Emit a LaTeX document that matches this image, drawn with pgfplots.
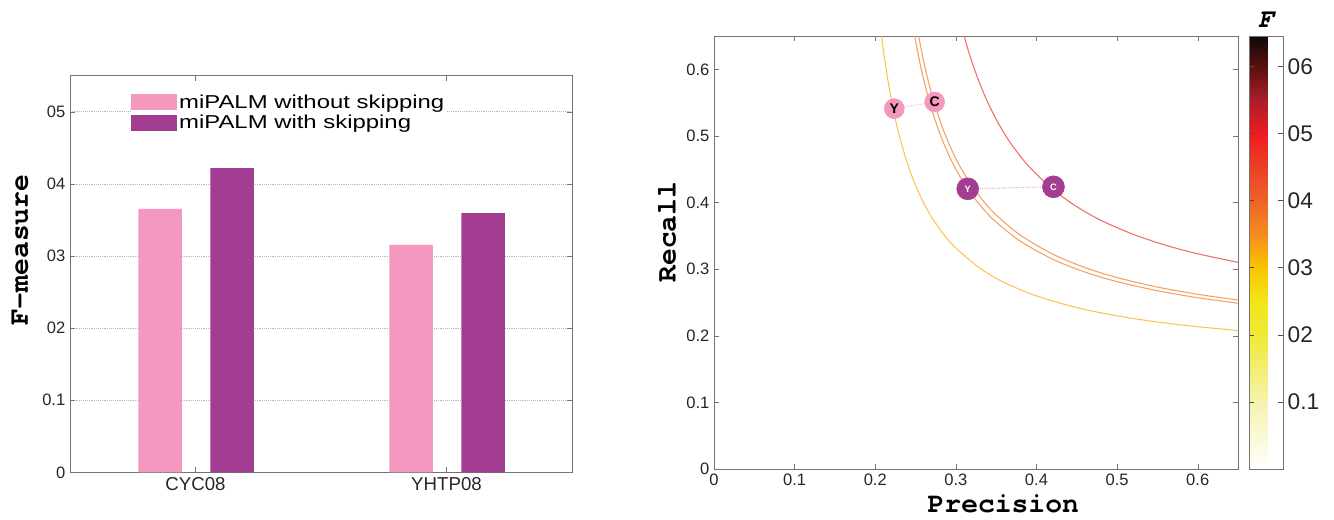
\documentclass[border=0pt]{standalone}
\usepackage{fontspec}
\setmainfont{Liberation Sans}
\newfontfamily\legfont{Liberation Sans}[FakeStretch=1.28]
\newfontfamily\lblfont{TeX Gyre Cursor}
\usepackage{pgfplots}
\pgfplotsset{compat=1.18}

\definecolor{pinkc}{RGB}{244,152,192}
\definecolor{purplec}{RGB}{163,61,146}
\definecolor{axgray}{RGB}{115,115,115}
\definecolor{fone}{RGB}{250,196,80}
\definecolor{ftwo}{RGB}{245,160,100}
\definecolor{ffour}{RGB}{238,112,100}

\pgfplotsset{
  matlab/.style={
    scale only axis,
    anchor=south west,
    tick align=inside,
    tick pos=both,
    major tick length=4pt,
    axis line style={axgray},
    tick style={axgray},
    /pgf/number format/assume math mode=true,
    tick label style={font=\fontsize{12.4}{13}\selectfont, text=black!85},
    label style={font=\lblfont\bfseries\fontsize{21}{21}\selectfont},
  },
}

\begin{document}
\begin{tikzpicture}
\useasboundingbox (0,0) rectangle (1000.5pt,389.25pt);

% left: F-measure bars
\begin{axis}[matlab,
  at={(52.5pt,35pt)},
  width=376.5pt, height=297.5pt,
  xmin=0.5, xmax=2.5, ymin=0, ymax=0.55,
  xtick={1,2}, xticklabels={CYC08,YHTP08},
  xticklabel style={font=\fontsize{14}{15}\selectfont},
  ytick={0,0.1,0.2,0.3,0.4,0.5},
  yticklabels={0,0.1,02,03,04,05},
  ymajorgrids, grid style={densely dotted, gray!55},
  ylabel={F-measure},
  ylabel style={at={(axis description cs:-0.0996,0.56)}, anchor=center},
  legend cell align=left,
  legend style={at={(axis description cs:0.12,0.958)}, anchor=north west,
    fill=white, draw=none, inner sep=0pt, row sep=1pt,
    font=\legfont\fontsize{14}{14}\selectfont,
    nodes={inner sep=1.5pt}},
]
\addplot[ybar, bar width=32.6pt, bar shift=-26.5pt, fill=pinkc, draw=none,
  legend image code/.code={\fill[pinkc] (0pt,-6pt) rectangle (35pt,6pt);}]
  coordinates {(1,0.3653) (2,0.3153)};
\addlegendentry{miPALM without skipping}
\addplot[ybar, bar width=32.6pt, bar shift=27.5pt, fill=purplec, draw=none,
  legend image code/.code={\fill[purplec] (0pt,-6pt) rectangle (35pt,6pt);}]
  coordinates {(1,0.4219) (2,0.3593)};
\addlegendentry{miPALM with skipping}
\end{axis}

% right: precision / recall with iso-F curves
\begin{axis}[matlab,
  at={(535.5pt,37.5pt)},
  width=393pt, height=324.75pt,
  xmin=0, xmax=0.65, ymin=0, ymax=0.65,
  xtick={0,0.1,0.2,0.3,0.4,0.5,0.6},
  xticklabels={0,0.1,0.2,0.3,0.4,0.5,0.6},
  ytick={0,0.1,0.2,0.3,0.4,0.5,0.6},
  yticklabels={0,0.1,0.2,0.3,0.4,0.5,0.6},
  xlabel={Precision}, ylabel={Recall},
  xlabel style={at={(axis description cs:0.552,-0.081)}, anchor=center},
  ylabel style={at={(axis description cs:-0.0897,0.547)}, anchor=center},
  point meta min=0, point meta max=0.645,
  colormap={fhot}{rgb255(0cm)=(255,255,255) rgb255(1cm)=(246,242,175)
    rgb255(2cm)=(241,232,55) rgb255(2.5cm)=(242,230,25) rgb255(3cm)=(250,196,0)
    rgb255(3.5cm)=(245,140,30) rgb255(4cm)=(235,100,40) rgb255(5cm)=(237,28,36)
    rgb255(5.5cm)=(170,30,40) rgb255(6cm)=(90,15,15) rgb255(6.45cm)=(10,10,10)},
  colorbar,
  colorbar shift/.style={xshift=8.25pt},
  colorbar style={
    width=25.5pt,
    at={(parent axis.north east)}, anchor=north west,
    ytick={0.1,0.2,0.3,0.4,0.5,0.6},
    yticklabels={0.1,02,03,04,05,06},
    yticklabel style={font=\fontsize{17}{18}\selectfont},
    tick align=inside, ytick pos=both, yticklabel pos=right,
    major tick length=4pt,
    axis line style={axgray}, tick style={black!70},
    title={\lblfont\bfseries\itshape F},
    title style={font=\fontsize{20}{20}\selectfont, yshift=-3pt},
  },
]
% F = 0.315
\addplot[fone, line width=0.8pt, smooth] coordinates {
  (0.2075,0.6536) (0.21,0.63) (0.215,0.5889) (0.22,0.5544) (0.225,0.525)
  (0.23,0.4997) (0.24,0.4582) (0.25,0.4257) (0.26,0.3995) (0.27,0.378)
  (0.285,0.3521) (0.3,0.3316) (0.33,0.3013) (0.36,0.28) (0.4,0.2598)
  (0.45,0.2423) (0.5,0.2299) (0.55,0.2207) (0.6,0.2136) (0.65,0.2079)};
% F = 0.36
\addplot[ftwo, line width=0.8pt, smooth] coordinates {
  (0.2485,0.653) (0.255,0.612) (0.26,0.585) (0.265,0.5612) (0.27,0.54)
  (0.28,0.504) (0.29,0.4745) (0.3,0.45) (0.31,0.4292) (0.32,0.4114)
  (0.335,0.389) (0.35,0.3706) (0.38,0.342) (0.42,0.315) (0.46,0.2957)
  (0.5,0.2813) (0.55,0.2676) (0.6,0.2571) (0.65,0.2489)};
% F = 0.365
\addplot[ftwo, line width=0.8pt, smooth] coordinates {
  (0.2535,0.6516) (0.26,0.6123) (0.265,0.5862) (0.27,0.5631) (0.275,0.5426)
  (0.285,0.5074) (0.295,0.4786) (0.305,0.4544) (0.32,0.4247) (0.335,0.4009)
  (0.35,0.3813) (0.38,0.3511) (0.42,0.3227) (0.46,0.3025) (0.5,0.2874)
  (0.55,0.2731) (0.6,0.2623) (0.65,0.2537)};
% F = 0.42
\addplot[ffour, line width=0.8pt, smooth] coordinates {
  (0.31,0.651) (0.315,0.63) (0.32,0.6109) (0.33,0.5775) (0.34,0.5492)
  (0.35,0.525) (0.36,0.504) (0.37,0.4856) (0.39,0.455) (0.42,0.42)
  (0.45,0.3938) (0.48,0.3733) (0.52,0.3523) (0.56,0.336) (0.6,0.3231)
  (0.65,0.3102)};

% connectors
\addplot[pinkc!70, densely dotted, line width=0.8pt] coordinates {(0.2236,0.541) (0.2737,0.551)};
\addplot[purplec!40, densely dotted, line width=0.8pt] coordinates {(0.3147,0.4206) (0.4211,0.4236)};

% points: without skipping
\addplot[pinkc, only marks, mark=*, mark size=7.5pt, mark options={fill=pinkc, draw=pinkc},
  nodes near coords={\bfseries Y},
  every node near coord/.append style={anchor=center, font=\fontsize{10.5}{11}\selectfont, text=black}]
  coordinates {(0.2236,0.541)};
\addplot[pinkc, only marks, mark=*, mark size=7.5pt, mark options={fill=pinkc, draw=pinkc},
  nodes near coords={\bfseries C},
  every node near coord/.append style={anchor=center, font=\fontsize{10.5}{11}\selectfont, text=black}]
  coordinates {(0.2737,0.551)};
% points: with skipping
\addplot[purplec, only marks, mark=*, mark size=8.25pt, mark options={fill=purplec, draw=purplec},
  nodes near coords={\bfseries Y},
  every node near coord/.append style={anchor=center, font=\fontsize{7}{7}\selectfont, text=white}]
  coordinates {(0.3147,0.4206)};
\addplot[purplec, only marks, mark=*, mark size=8.25pt, mark options={fill=purplec, draw=purplec},
  nodes near coords={\bfseries C},
  every node near coord/.append style={anchor=center, font=\fontsize{7}{7}\selectfont, text=white}]
  coordinates {(0.4211,0.4236)};
\end{axis}
\end{tikzpicture}
\end{document}
